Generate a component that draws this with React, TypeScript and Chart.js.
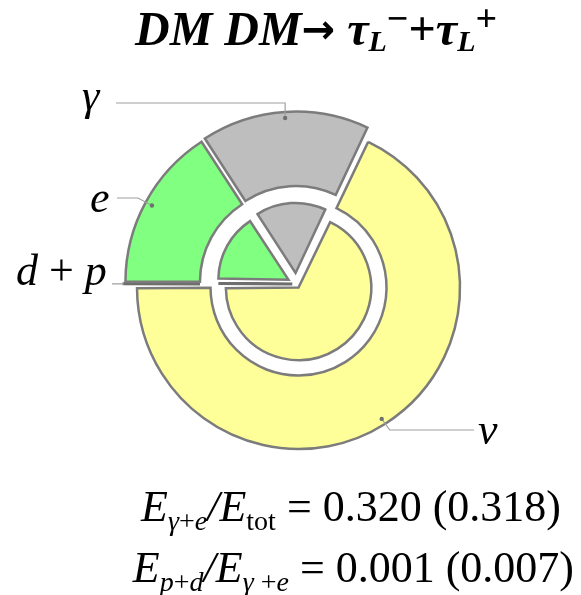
import React, { useEffect, useRef } from 'react';
import { Chart, registerables } from 'chart.js';

Chart.register(...registerables);

// Energy channels, clockwise from nine o'clock
const channels = ['d + p', 'e', 'γ', 'ν'];

// Energy fractions: outer ring, and inner pie (the values in parentheses)
const outerShares = [0.00032, 0.158, 0.162, 0.67968];
const innerShares = [0.002226, 0.156, 0.162, 0.679774];

const fillColors = ['#6e6e6e', '#80ff80', '#bebebe', '#ffff99'];
const NONE = 'rgba(0,0,0,0)';
const EDGE = '#7c7c7c';
const SERIF = '"Liberation Serif", "Times New Roman", serif';
const font = (style: string, size: number, family = SERIF) => `${style} ${size}px ${family}`;

const visibleE = (s: number[]) => s[1] + s[2];
const total = (s: number[]) => s.reduce((a, b) => a + b, 0);
const fmt = (v: number) => v.toFixed(3);

type Run = [string, string, number];

function drawRuns(ctx: CanvasRenderingContext2D, runs: Run[], x: number, y: number) {
  let cx = x;
  for (const [text, f, dy] of runs) {
    ctx.font = f;
    ctx.fillText(text, cx, y + dy);
    cx += ctx.measureText(text).width;
  }
  return cx;
}

function runsWidth(ctx: CanvasRenderingContext2D, runs: Run[]) {
  let w = 0;
  for (const [text, f] of runs) {
    ctx.font = f;
    w += ctx.measureText(text).width;
  }
  return w;
}

// point at a slice's mid-angle, `inset` px inside its drawn outer edge
function anchor(arc: any, inset: number) {
  const { x, y, startAngle, endAngle, outerRadius, circumference } = arc.getProps(
    ['x', 'y', 'startAngle', 'endAngle', 'outerRadius', 'circumference'],
    true
  );
  const mid = (startAngle + endAngle) / 2;
  const t = (arc.options.offset || 0) / 4;
  const fix = 1 - Math.sin(Math.min(Math.PI, circumference));
  const r = t + outerRadius + t * fix - inset;
  return { x: x + Math.cos(mid) * r, y: y + Math.sin(mid) * r };
}

const annotations = {
  id: 'annotations',
  afterDraw(chart: any) {
    const ctx: CanvasRenderingContext2D = chart.ctx;
    ctx.save();
    ctx.fillStyle = '#000';
    ctx.textBaseline = 'alphabetic';

    // title
    const BI = font('italic bold', 48);
    const B = font('bold', 48);
    const ARROW = font('bold', 40, '"DejaVu Sans", sans-serif');
    const BIs = font('italic bold', 30);
    const Bs = font('bold', 38);
    drawRuns(ctx, [
      ['DM DM', BI, 0], ['→', ARROW, -2], [' ', B, 0],
      ['τ', BI, 0], ['L', BIs, 6], ['−', Bs, -14],
      ['+', B, 0],
      ['τ', BI, 0], ['L', BIs, 6], ['+', Bs, -14],
    ], 135, 45);

    // leader lines and channel labels
    const outer = chart.getDatasetMeta(1).data;
    const nuArc = chart.getDatasetMeta(0).data[3];
    const dotG = anchor(outer[2], 6);
    const dotE = anchor(outer[1], 7);
    const dotN = anchor(nuArc, 6);
    const endDP = anchor(outer[0], 0);

    ctx.strokeStyle = '#a0a0a0';
    ctx.lineWidth = 1.2;
    ctx.beginPath();
    ctx.moveTo(dotG.x, dotG.y); ctx.lineTo(dotG.x, 103); ctx.lineTo(116, 103);
    ctx.moveTo(dotE.x, dotE.y); ctx.lineTo(dotE.x - 14, 198); ctx.lineTo(117, 198);
    ctx.moveTo(endDP.x, endDP.y); ctx.lineTo(112, endDP.y);
    ctx.moveTo(dotN.x, dotN.y); ctx.lineTo(dotN.x + 8, 430); ctx.lineTo(474, 430);
    ctx.stroke();

    ctx.fillStyle = '#707070';
    for (const p of [dotG, dotE, dotN]) {
      ctx.beginPath();
      ctx.arc(p.x, p.y, 2.2, 0, Math.PI * 2);
      ctx.fill();
    }

    ctx.fillStyle = '#000';
    const L = font('italic', 44);
    const Lr = font('normal', 44);
    drawRuns(ctx, [[channels[2], L, 0]], 82, 110);
    drawRuns(ctx, [[channels[1], L, 0]], 90, 212);
    drawRuns(ctx, [['d', L, 0], [' + ', Lr, 0], ['p', L, 0]], 16, 285);
    drawRuns(ctx, [[channels[3], L, 0]], 478, 444);

    // energy-ratio captions
    const I = font('italic', 44);
    const R = font('normal', 44);
    const Is = font('italic', 28);
    const Rs = font('normal', 28);
    const ge = [visibleE(outerShares) / total(outerShares), visibleE(innerShares) / total(innerShares)];
    const pd = [outerShares[0] / visibleE(outerShares), innerShares[0] / visibleE(innerShares)];
    const line1: Run[] = [
      ['E', I, 0], ['γ', Is, 9], ['+', Rs, 9], ['e', Is, 9], ['/', I, 0],
      ['E', I, 0], ['tot', Rs, 9], [` = ${fmt(ge[0])} (${fmt(ge[1])})`, R, 0],
    ];
    const line2: Run[] = [
      ['E', I, 0], ['p', Is, 9], ['+', Rs, 9], ['d', Is, 9], ['/', I, 0],
      ['E', I, 0], ['γ', Is, 9], [' +', Rs, 9], ['e', Is, 9], [` = ${fmt(pd[0])} (${fmt(pd[1])})`, R, 0],
    ];
    drawRuns(ctx, line1, 561 - runsWidth(ctx, line1), 521);
    drawRuns(ctx, line2, 574 - runsWidth(ctx, line2), 582);
    ctx.restore();
  },
};

export default function App() {
  const ref = useRef<HTMLCanvasElement>(null);

  useEffect(() => {
    const chart = new Chart(ref.current as HTMLCanvasElement, {
      type: 'doughnut',
      data: {
        labels: channels,
        datasets: [
          {
            label: 'outer ν',
            data: outerShares,
            weight: 2,
            radius: 157.35,
            cutout: '6.58%',
            backgroundColor: [NONE, NONE, NONE, fillColors[3]],
            borderColor: EDGE,
            borderWidth: [0, 0, 0, 2.5],
            offset: [0, 0, 0, 16.6],
          } as any,
          {
            label: 'outer γ, e, d + p',
            data: outerShares,
            weight: 1,
            radius: 315.7,
            cutout: '5.607%',
            backgroundColor: [fillColors[0], fillColors[1], fillColors[2], NONE],
            borderColor: [fillColors[0], EDGE, EDGE, NONE],
            borderWidth: [3, 2.5, 2.5, 0],
            offset: [11.2, 16, 20, 0],
          } as any,
          {
            label: 'inner',
            data: innerShares,
            weight: 1,
            radius: 274,
            cutout: '0%',
            backgroundColor: fillColors,
            borderColor: [fillColors[0], EDGE, EDGE, EDGE],
            borderWidth: [3, 2.5, 2.5, 2.5],
            offset: [16, 36, 44, 16.6],
          } as any,
        ],
      },
      options: {
        responsive: false,
        animation: false,
        devicePixelRatio: 1,
        rotation: 270,
        events: [],
        layout: { padding: { left: 11.6, right: 0, top: 0, bottom: 27 } },
        elements: { arc: { borderJoinStyle: 'miter' } as any },
        plugins: { legend: { display: false }, tooltip: { enabled: false } },
      } as any,
      plugins: [annotations],
    });
    return () => chart.destroy();
  }, []);

  return (
    <div style={{ position: 'fixed', left: 0, top: 0, width: 581, height: 595, background: '#fff' }}>
      <canvas ref={ref} width={581} height={595} style={{ display: 'block' }} />
    </div>
  );
}
